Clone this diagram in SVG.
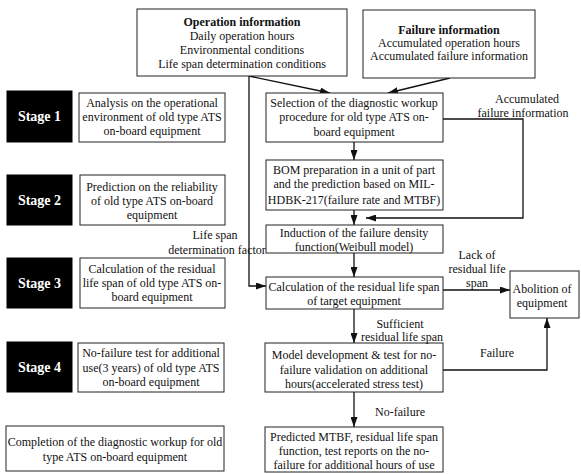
<svg xmlns="http://www.w3.org/2000/svg" width="581" height="474" viewBox="0 0 581 474">
<style>
  .box { fill: #fff; stroke: #222; stroke-width: 1; }
  .stage { fill: #000; stroke: #000; }
  .t { font-family: 'Liberation Serif', Tinos, 'Times New Roman', Times, serif; font-size: 12px; fill: #111; text-anchor: middle; }
  .b { font-weight: bold; }
  .st { font-family: 'Liberation Serif', Tinos, 'Times New Roman', Times, serif; font-size: 14px; font-weight: bold; fill: #fff; text-anchor: middle; }
  .ca { fill: none; stroke: #111; stroke-width: 1.3; marker-end: url(#ah); }
</style>
<defs>
  <marker id="ah" markerWidth="10" markerHeight="7" refX="10" refY="3.5" orient="auto" markerUnits="userSpaceOnUse">
    <path d="M0,0 L10,3.5 L0,7 z" fill="#111"/>
  </marker>
</defs>
<rect width="581" height="474" fill="#fff"/>

<g id="connectors">
  <line class="ca" x1="249" y1="76" x2="330" y2="93"/>
  <line class="ca" x1="450" y1="78" x2="388" y2="93"/>
  <line class="ca" x1="354" y1="142" x2="354" y2="160"/>
  <polyline class="ca" points="443,119 523,119 523,218 366,218"/>
  <line class="ca" x1="354" y1="210" x2="354" y2="225"/>
  <line class="ca" x1="354" y1="240" x2="354" y2="277"/>
  <polyline class="ca" points="249,76 249,286 266,286"/>
  <line class="ca" x1="443" y1="290" x2="510" y2="290"/>
  <line class="ca" x1="354" y1="309" x2="354" y2="343"/>
  <polyline class="ca" points="443,370 547,370 547,318"/>
  <line class="ca" x1="354" y1="392" x2="354" y2="427"/>
</g>

<g id="op-info">
  <rect class="box" x="137" y="9" width="210" height="67"/>
  <text class="t b" x="242" y="26">Operation information</text>
  <text class="t" x="242" y="40">Daily operation hours</text>
  <text class="t" x="242" y="54">Environmental conditions</text>
  <text class="t" x="242" y="68">Life span determination conditions</text>
</g>
<g id="fail-info">
  <rect class="box" x="363" y="10" width="172" height="68"/>
  <text class="t b" x="449" y="34">Failure information</text>
  <text class="t" x="449" y="47">Accumulated operation hours</text>
  <text class="t" x="449" y="60">Accumulated failure information</text>
</g>

<g id="stage1">
  <rect class="stage" x="7" y="91" width="65" height="51"/>
  <text class="st" x="39.5" y="121">Stage 1</text>
</g>
<g id="stage2">
  <rect class="stage" x="7" y="175" width="65" height="50"/>
  <text class="st" x="39.5" y="205">Stage 2</text>
</g>
<g id="stage3">
  <rect class="stage" x="7" y="258" width="65" height="50"/>
  <text class="st" x="39.5" y="288">Stage 3</text>
</g>
<g id="stage4">
  <rect class="stage" x="7" y="342" width="65" height="50"/>
  <text class="st" x="39.5" y="372">Stage 4</text>
</g>

<g id="analysis">
  <rect class="box" x="79" y="93" width="146" height="49"/>
  <text class="t" x="152" y="107">Analysis on the operational</text>
  <text class="t" x="152" y="121">environment of old type ATS</text>
  <text class="t" x="152" y="135">on-board equipment</text>
</g>
<g id="prediction">
  <rect class="box" x="80" y="175" width="145" height="50"/>
  <text class="t" x="152" y="191">Prediction on the reliability</text>
  <text class="t" x="152" y="205">of old type ATS on-board</text>
  <text class="t" x="152" y="219">equipment</text>
</g>
<g id="calc-residual">
  <rect class="box" x="80" y="258" width="145" height="50"/>
  <text class="t" x="152" y="273">Calculation of the residual</text>
  <text class="t" x="152" y="287">life span of old type ATS on-</text>
  <text class="t" x="152" y="301">board equipment</text>
</g>
<g id="nofail-test">
  <rect class="box" x="78" y="343" width="146" height="49"/>
  <text class="t" x="151" y="357">No-failure test for additional</text>
  <text class="t" x="151" y="372">use(3 years) of old type ATS</text>
  <text class="t" x="151" y="386">on-board equipment</text>
</g>
<g id="completion">
  <rect class="box" x="6" y="426" width="218" height="45"/>
  <text class="t" x="115" y="446">Completion of the diagnostic workup for old</text>
  <text class="t" x="115" y="461">type ATS on-board equipment</text>
</g>

<g id="selection">
  <rect class="box" x="266" y="93" width="177" height="49"/>
  <text class="t" x="354" y="107">Selection of the diagnostic workup</text>
  <text class="t" x="354" y="121">procedure for old type ATS on-</text>
  <text class="t" x="354" y="136">board equipment</text>
</g>
<g id="bom">
  <rect class="box" x="266" y="160" width="177" height="50"/>
  <text class="t" x="354" y="174">BOM preparation in a unit of part</text>
  <text class="t" x="354" y="188">and the prediction based on MIL-</text>
  <text class="t" x="354" y="204">HDBK-217(failure rate and MTBF)</text>
</g>
<g id="induction">
  <rect class="box" x="266" y="225" width="177" height="28"/>
  <text class="t" x="354" y="237">Induction of the failure density</text>
  <text class="t" x="354" y="251">function(Weibull model)</text>
</g>
<g id="calc-target">
  <rect class="box" x="266" y="277" width="177" height="32"/>
  <text class="t" x="354" y="291">Calculation of the residual life span</text>
  <text class="t" x="354" y="305">of target equipment</text>
</g>
<g id="model">
  <rect class="box" x="265" y="343" width="178" height="49"/>
  <text class="t" x="354" y="359">Model development &amp; test for no-</text>
  <text class="t" x="354" y="374">failure validation on additional</text>
  <text class="t" x="354" y="388">hours(accelerated stress test)</text>
</g>
<g id="predicted">
  <rect class="box" x="265" y="427" width="178" height="45"/>
  <text class="t" x="354" y="441">Predicted MTBF, residual life span</text>
  <text class="t" x="354" y="455">function, test reports on the no-</text>
  <text class="t" x="354" y="469">failure for additional hours of use</text>
</g>
<g id="abolition">
  <rect class="box" x="510" y="271" width="69" height="47"/>
  <text class="t" x="542" y="293">Abolition of</text>
  <text class="t" x="542" y="307">equipment</text>
</g>

<g id="labels">
  <text class="t" x="527" y="103">Accumulated</text>
  <text class="t" x="523" y="117">failure information</text>
  <text class="t" x="215" y="239">Life span</text>
  <text class="t" x="217" y="254">determination factor</text>
  <text class="t" x="477" y="259">Lack of</text>
  <text class="t" x="477" y="273">residual life</text>
  <text class="t" x="477" y="287">span</text>
  <text class="t" x="400" y="328">Sufficient</text>
  <text class="t" x="402" y="341">residual life span</text>
  <text class="t" x="497" y="357">Failure</text>
  <text class="t" x="400" y="416">No-failure</text>
</g>
</svg>
